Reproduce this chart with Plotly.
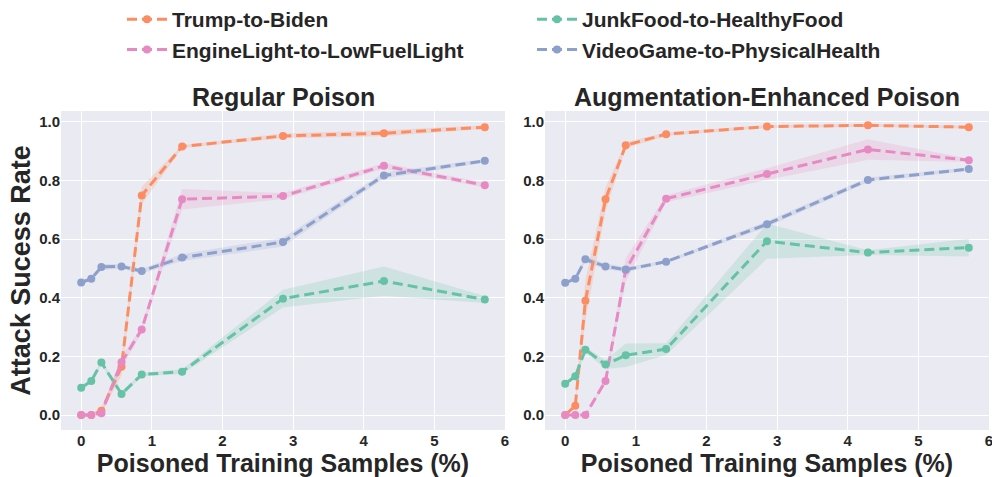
import plotly.graph_objects as go

# ---------------- data ----------------
x_pct = [0, 0.143, 0.286, 0.571, 0.857, 1.429, 2.857, 4.286, 5.714]
series_names = ["Trump-to-Biden", "EngineLight-to-LowFuelLight",
                "JunkFood-to-HealthyFood", "VideoGame-to-PhysicalHealth"]
colors = ["#fc8d62", "#e78ac3", "#66c2a5", "#8da0cb"]
legend_ranks = [1, 3, 2, 4]
panel_titles = ["Regular Poison", "Augmentation-Enhanced Poison"]

# Regular Poison
reg_trump = [0.0, 0.0, 0.015, 0.165, 0.749, 0.916, 0.952, 0.961, 0.982]
reg_trump_err = [0.0, 0.0, 0.01, 0.03, 0.03, 0.005, 0.008, 0.01, 0.006]
reg_engine = [0.0, 0.0, 0.006, 0.18, 0.292, 0.736, 0.747, 0.850, 0.784]
reg_engine_err = [0.0, 0.0, 0.005, 0.02, 0.01, 0.035, 0.01, 0.01, 0.008]
reg_junk = [0.093, 0.116, 0.179, 0.072, 0.138, 0.148, 0.397, 0.457, 0.394]
reg_junk_err = [0.005, 0.005, 0.008, 0.008, 0.006, 0.008, 0.03, 0.05, 0.012]
reg_video = [0.452, 0.465, 0.505, 0.507, 0.491, 0.537, 0.590, 0.817, 0.867]
reg_video_err = [0.005, 0.005, 0.01, 0.008, 0.008, 0.012, 0.015, 0.01, 0.006]

# Augmentation-Enhanced Poison
aug_trump = [0.0, 0.032, 0.39, 0.736, 0.920, 0.958, 0.984, 0.988, 0.982]
aug_trump_err = [0.0, 0.01, 0.07, 0.04, 0.01, 0.006, 0.005, 0.005, 0.005]
aug_engine = [0.0, 0.0, 0.0, 0.116, 0.495, 0.738, 0.822, 0.906, 0.869]
aug_engine_err = [0.0, 0.0, 0.0, 0.01, 0.04, 0.012, 0.02, 0.035, 0.006]
aug_junk = [0.107, 0.132, 0.223, 0.172, 0.204, 0.225, 0.593, 0.554, 0.571]
aug_junk_err = [0.005, 0.008, 0.01, 0.015, 0.04, 0.02, 0.06, 0.008, 0.03]
aug_video = [0.451, 0.465, 0.531, 0.507, 0.496, 0.523, 0.651, 0.802, 0.839]
aug_video_err = [0.005, 0.005, 0.01, 0.01, 0.008, 0.005, 0.01, 0.008, 0.006]

x_ticks = [0, 1, 2, 3, 4, 5, 6]
y_ticks = [0.0, 0.2, 0.4, 0.6, 0.8, 1.0]

panels = [
    [(reg_trump, reg_trump_err), (reg_engine, reg_engine_err),
     (reg_junk, reg_junk_err), (reg_video, reg_video_err)],
    [(aug_trump, aug_trump_err), (aug_engine, aug_engine_err),
     (aug_junk, aug_junk_err), (aug_video, aug_video_err)],
]

def rgba(hexc, a):
    h = hexc.lstrip("#")
    return f"rgba({int(h[0:2],16)},{int(h[2:4],16)},{int(h[4:6],16)},{a})"

FONT = "Liberation Sans, Arial, sans-serif"
fig = go.Figure()

for p, panel in enumerate(panels):
    xa = "x" if p == 0 else "x2"
    ya = "y" if p == 0 else "y2"
    for i, (vals, err) in enumerate(panel):
        upper = [v + e for v, e in zip(vals, err)]
        lower = [v - e for v, e in zip(vals, err)]
        fig.add_trace(go.Scatter(
            x=x_pct + x_pct[::-1], y=upper + lower[::-1],
            fill="toself", fillcolor=rgba(colors[i], 0.2),
            line=dict(width=0), mode="lines", hoverinfo="skip",
            showlegend=False, xaxis=xa, yaxis=ya))
        fig.add_trace(go.Scatter(
            x=x_pct, y=vals, mode="lines+markers", name=series_names[i],
            line=dict(color=colors[i], width=3, dash="10px,5px"),
            marker=dict(color=colors[i], size=8),
            legendrank=legend_ranks[i],
            showlegend=(p == 0), xaxis=xa, yaxis=ya))

W, H = 992, 477
left_dom = [61 / W, 505 / W]
right_dom = [545 / W, 989 / W]
y_dom = [1 - 430 / H, 1 - 111 / H]

tickfont = dict(family=FONT, size=15, color="#262626", weight="bold")
xtitlefont = dict(family=FONT, size=25, color="#262626", weight="bold")
ytitlefont = dict(family=FONT, size=27, color="#262626", weight="bold")

axis_common = dict(showgrid=True, gridcolor="white", gridwidth=1.2,
                   zeroline=False, showline=False, ticks="",
                   tickfont=tickfont, automargin=False,
                   ticklabeloverflow="allow")

fig.update_layout(
    width=W, height=H,
    margin=dict(l=0, r=0, t=0, b=0, autoexpand=False),
    paper_bgcolor="white", plot_bgcolor="#eaeaf2",
    font=dict(family=FONT, color="#262626"),
    xaxis=dict(domain=left_dom, range=[-0.286, 6.0], tickvals=x_ticks,
               anchor="y",
               title=dict(text="Poisoned Training Samples (%)", font=xtitlefont, standoff=0),
               **axis_common),
    yaxis=dict(domain=y_dom, range=[-0.051, 1.037], tickvals=y_ticks,
               tickformat=".1f", anchor="x",
               title=dict(text="Attack Sucess Rate", font=ytitlefont, standoff=0),
               **axis_common),
    xaxis2=dict(domain=right_dom, range=[-0.286, 6.0], tickvals=x_ticks,
                anchor="y2",
                title=dict(text="Poisoned Training Samples (%)", font=xtitlefont, standoff=0),
                **axis_common),
    yaxis2=dict(domain=y_dom, range=[-0.051, 1.037], tickvals=y_ticks,
                tickformat=".1f", anchor="x2", **axis_common),
    legend=dict(orientation="h", x=122 / W, y=1.0 + 1 / H, xanchor="left", yanchor="top",
                entrywidth=355, entrywidthmode="pixels",
                font=dict(family=FONT, size=21, color="#262626", weight="bold"),
                bgcolor="rgba(0,0,0,0)", itemwidth=40),
    annotations=[
        dict(text=panel_titles[0], x=(left_dom[0] + left_dom[1]) / 2, y=1 - 97 / H,
             xref="paper", yref="paper", showarrow=False,
             xanchor="center", yanchor="middle",
             font=dict(family=FONT, size=25, color="#262626", weight="bold")),
        dict(text=panel_titles[1], x=(right_dom[0] + right_dom[1]) / 2, y=1 - 97 / H,
             xref="paper", yref="paper", showarrow=False,
             xanchor="center", yanchor="middle",
             font=dict(family=FONT, size=25, color="#262626", weight="bold")),
    ],
)

fig.write_html("out.html",
               config={"displayModeBar": False},
               post_script="document.body.style.margin='0px';document.body.style.padding='0px';")
